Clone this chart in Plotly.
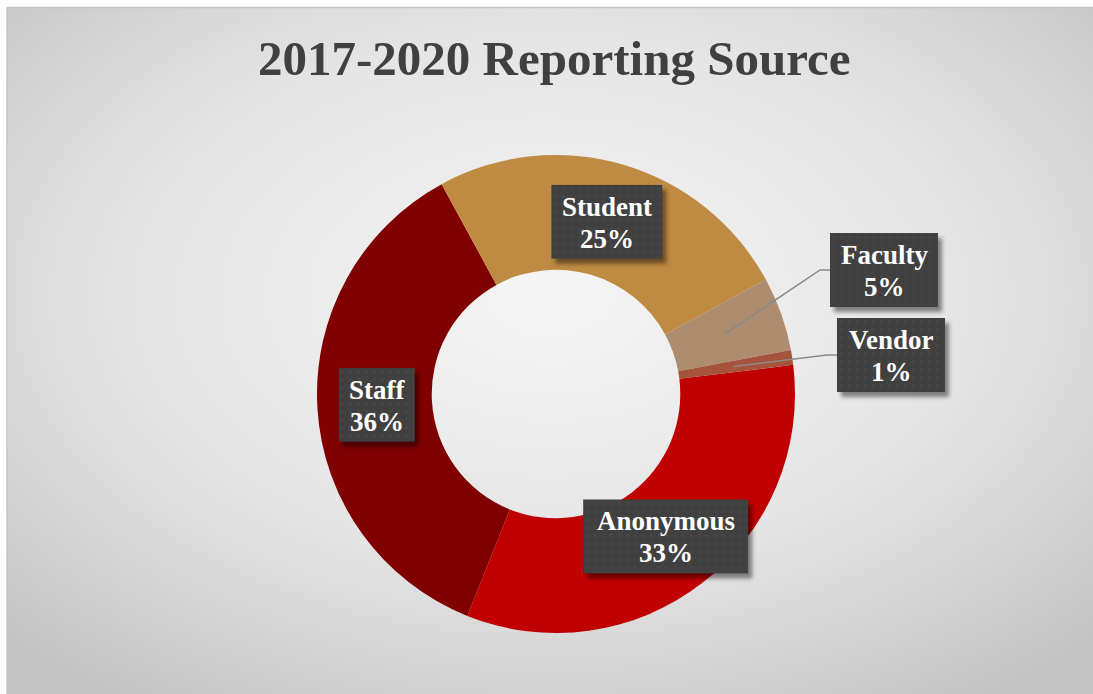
import base64
import math
import plotly.graph_objects as go

# ---- data -------------------------------------------------------------
labels = ["Anonymous", "Staff", "Student", "Faculty", "Vendor"]
shares = [33, 36, 25, 5, 1]
colors = ["#C00000", "#800000", "#BF8A42", "#AE8C70", "#A6533B"]
title_text = "2017-2020 Reporting Source"

# ---- geometry (pixels) ------------------------------------------------
W, H = 1093, 694
CX, CY, R = 556, 394, 239          # donut centre and outer radius
HOLE = 0.52
START = 83                          # first slice starts 83 deg clockwise from 12 o'clock
LABEL_R = R * (1 + HOLE) / 2 - 2    # labels sit mid-ring

# label box sizes and the callouts that are pulled outside the ring
box_w = {"Anonymous": 165, "Staff": 76, "Student": 111, "Faculty": 108, "Vendor": 108}
box_h = 74
line_gap = 32
callout_pos = {"Faculty": (884, 270), "Vendor": (891, 355)}

FONT = "Liberation Serif"


def px(x):
    return x / W


def py(y):
    return 1 - y / H


def svg_uri(svg):
    return "data:image/svg+xml;base64," + base64.b64encode(svg.encode()).decode()


def label_box_svg(bw, bh, pad=12):
    """Dark dotted label box with a soft drop shadow."""
    return (
        f"<svg xmlns='http://www.w3.org/2000/svg' width='{bw + pad}' height='{bh + pad}'>"
        "<defs>"
        "<filter id='s' x='-20%' y='-20%' width='140%' height='140%'>"
        "<feGaussianBlur stdDeviation='2.2'/></filter>"
        "<pattern id='d' width='8' height='8' patternUnits='userSpaceOnUse'>"
        "<circle cx='4' cy='4' r='1.5' fill='#565656' fill-opacity='0.35'/></pattern>"
        "</defs>"
        f"<rect x='4' y='5' width='{bw}' height='{bh}' fill='#000' fill-opacity='0.45' filter='url(#s)'/>"
        f"<rect x='0' y='0' width='{bw}' height='{bh}' fill='#404040'/>"
        f"<rect x='0' y='0' width='{bw}' height='{bh}' fill='url(#d)'/>"
        "</svg>"
    )


fig = go.Figure(
    go.Pie(
        labels=labels,
        values=shares,
        sort=False,
        direction="clockwise",
        rotation=START,
        hole=HOLE,
        marker=dict(colors=colors, line=dict(width=0)),
        textinfo="none",
        hoverinfo="label+percent",
        showlegend=False,
        domain=dict(x=[px(CX - R), px(CX + R)], y=[py(CY + R), py(CY - R)]),
    )
)

# ---- background: soft radial grey gradient inside a thin frame --------
bg_svg = (
    "<svg xmlns='http://www.w3.org/2000/svg' width='1086' height='686' "
    "preserveAspectRatio='none'><defs><radialGradient id='g' cx='0.5' cy='0.42' r='0.72'>"
    "<stop offset='0' stop-color='#f5f5f5'/><stop offset='0.55' stop-color='#e4e4e4'/>"
    "<stop offset='1' stop-color='#c3c3c3'/></radialGradient></defs>"
    "<rect width='1086' height='686' fill='url(#g)'/></svg>"
)
images = [dict(
    source=svg_uri(bg_svg), xref="paper", yref="paper",
    x=px(7), y=py(8), sizex=px(W - 7), sizey=(H - 8) / H,
    xanchor="left", yanchor="top", sizing="stretch", layer="below",
)]

shapes = [
    dict(type="line", xref="paper", yref="paper", x0=px(7), x1=1.01, y0=py(7.5), y1=py(7.5),
         line=dict(color="#c4c4c4", width=1.5)),
    dict(type="line", xref="paper", yref="paper", x0=px(7), x1=px(7), y0=py(7.5), y1=-0.01,
         line=dict(color="#c4c4c4", width=1.5)),
]
annotations = [
    dict(text=title_text, x=px(554), y=py(58), xref="paper", yref="paper", showarrow=False,
         xanchor="center", yanchor="middle",
         font=dict(family=FONT, size=49, color="#404040", weight="bold")),
]

# ---- slice labels --------------------------------------------------------
total = sum(shares)
cum = 0
for lab, val in zip(labels, shares):
    mid = math.radians(START + 360 * (cum + val / 2) / total)
    cum += val
    ax_ = CX + LABEL_R * math.sin(mid)
    ay_ = CY - LABEL_R * math.cos(mid)
    bw = box_w[lab]
    if lab in callout_pos:
        bx, by = callout_pos[lab]
        left = bx - bw / 2
        shapes.append(dict(
            type="path", xref="paper", yref="paper",
            path=f"M {px(ax_)},{py(ay_)} L {px(left - 10)},{py(by)} L {px(left)},{py(by)}",
            line=dict(color="#8a8a8a", width=1.5),
        ))
    else:
        bx, by = ax_, ay_
    pad = 12
    images.append(dict(
        source=svg_uri(label_box_svg(bw, box_h, pad)), xref="paper", yref="paper",
        x=px(bx - bw / 2), y=py(by - box_h / 2),
        sizex=(bw + pad) / W, sizey=(box_h + pad) / H,
        xanchor="left", yanchor="top", sizing="stretch", layer="above",
    ))
    pct = round(100 * val / total)
    for txt, dy in ((lab, -line_gap / 2), (f"{pct}%", line_gap / 2)):
        annotations.append(dict(
            text=txt, x=px(bx), y=py(by + dy + 1), xref="paper", yref="paper",
            showarrow=False, xanchor="center", yanchor="middle",
            font=dict(family=FONT, size=27, color="white", weight="bold"),
        ))

fig.update_layout(
    width=W, height=H,
    margin=dict(l=0, r=0, t=0, b=0),
    paper_bgcolor="white",
    plot_bgcolor="white",
    shapes=shapes,
    images=images,
    annotations=annotations,
)

fig.write_html("out.html")
